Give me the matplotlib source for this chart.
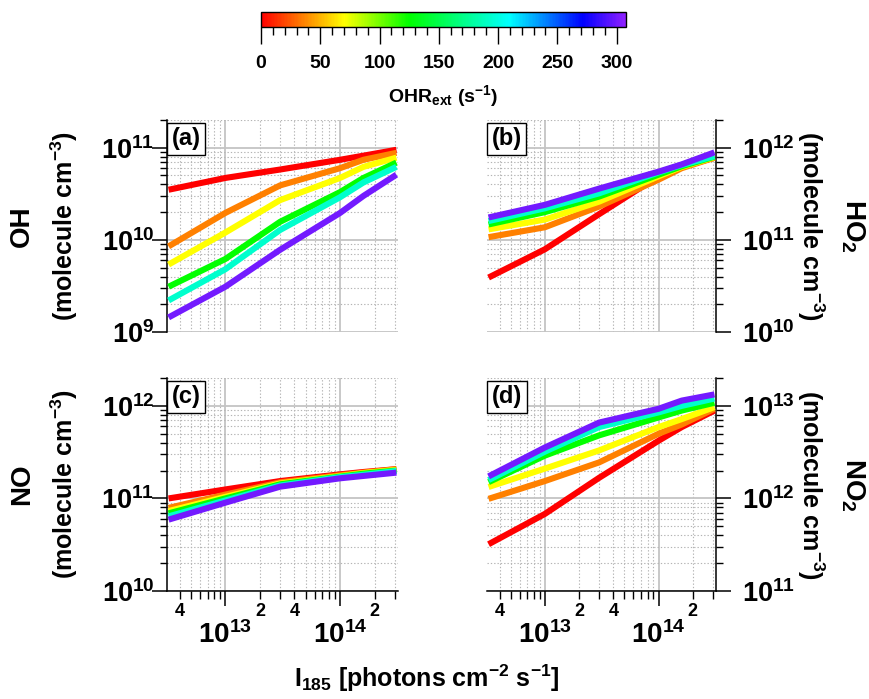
import numpy as np
import matplotlib
matplotlib.use("Agg")
import matplotlib.pyplot as plt
import matplotlib as mpl
from matplotlib.colors import LinearSegmentedColormap, Normalize
from matplotlib.ticker import LogLocator, FuncFormatter, MultipleLocator, NullFormatter

plt.rcParams['font.family'] = ['Liberation Sans', 'DejaVu Sans']
plt.rcParams['font.weight'] = 'bold'
plt.rcParams['mathtext.fontset'] = 'custom'
plt.rcParams['mathtext.rm'] = 'Liberation Sans:bold'
plt.rcParams['mathtext.bf'] = 'Liberation Sans:bold'
plt.rcParams['mathtext.it'] = 'Liberation Sans:bold'
plt.rcParams['mathtext.default'] = 'rm'

# ---------------- data ----------------
ohr_ext = [0, 35, 70, 125, 193, 300]          # s^-1
i185 = [3.2e12, 1.0e13, 3.0e13, 1.0e14, 1.6e14, 3.1e14]  # photons cm-2 s-1

oh = [
    [3.5e10, 4.7e10, 5.8e10, 7.4e10, 8.2e10, 9.5e10],
    [8.5e9, 1.96e10, 3.9e10, 6.0e10, 7.4e10, 8.8e10],
    [5.4e9, 1.2e10, 2.7e10, 4.7e10, 6.2e10, 7.8e10],
    [3.1e9, 6.2e9, 1.57e10, 3.3e10, 4.7e10, 6.9e10],
    [2.2e9, 4.8e9, 1.28e10, 2.9e10, 4.2e10, 6.2e10],
    [1.44e9, 3.1e9, 7.8e9, 1.96e10, 3.0e10, 5.1e10],
]
ho2 = [
    [3.9e10, 7.9e10, 1.9e11, 4.9e11, 6.2e11, 7.8e11],
    [1.07e11, 1.37e11, 2.3e11, 4.5e11, 6.0e11, 7.8e11],
    [1.3e11, 1.66e11, 2.6e11, 4.9e11, 6.2e11, 7.9e11],
    [1.47e11, 2.0e11, 2.95e11, 5.1e11, 6.3e11, 8.0e11],
    [1.6e11, 2.2e11, 3.2e11, 5.4e11, 6.5e11, 8.1e11],
    [1.75e11, 2.4e11, 3.6e11, 5.5e11, 6.6e11, 8.9e11],
]
no = [
    [1.0e11, 1.25e11, 1.54e11, 1.82e11, 1.93e11, 2.07e11],
    [7.9e10, 1.1e11, 1.49e11, 1.78e11, 1.9e11, 2.07e11],
    [7.3e10, 1.04e11, 1.45e11, 1.74e11, 1.88e11, 2.03e11],
    [6.9e10, 1.0e11, 1.42e11, 1.72e11, 1.85e11, 2.0e11],
    [6.4e10, 9.5e10, 1.38e11, 1.7e11, 1.8e11, 1.98e11],
    [5.9e10, 9.0e10, 1.34e11, 1.65e11, 1.75e11, 1.9e11],
]
no2 = [
    [3.2e11, 6.8e11, 1.67e12, 4.2e12, 5.9e12, 8.9e12],
    [9.9e11, 1.54e12, 2.45e12, 5.0e12, 6.3e12, 9.3e12],
    [1.33e12, 2.1e12, 3.3e12, 5.9e12, 7.2e12, 9.7e12],
    [1.5e12, 2.9e12, 4.8e12, 7.5e12, 8.9e12, 1.08e13],
    [1.58e12, 3.2e12, 5.9e12, 8.5e12, 1.0e13, 1.2e13],
    [1.73e12, 3.55e12, 6.6e12, 9.3e12, 1.14e13, 1.33e13],
]
panel_labels = ['(a)', '(b)', '(c)', '(d)']
species = ['OH', 'HO$_2$', 'NO', 'NO$_2$']
ylims = [(1e9, 2e11), (1e10, 2e12), (1e10, 2e12), (1e11, 2e13)]
xlim = (3.1e12, 3.2e14)

# ---------------- style ----------------
VMAX = 308
cmap = LinearSegmentedColormap.from_list('ohr', [
    (0.0, '#ff0000'), (35 / VMAX, '#ff8000'), (70 / VMAX, '#ffff00'),
    (125 / VMAX, '#00ff00'), (210 / VMAX, '#00ffff'), (272 / VMAX, '#0000ff'),
    (1.0, '#9020ff')])
norm = Normalize(0, VMAX)

W, H = 870, 699
fig = plt.figure(figsize=(W / 100, H / 100), dpi=100)

def fx(px):
    return px / W

def fy(py):
    return 1 - py / H

boxes = [
    (167, 120, 398, 332),
    (487, 120, 716, 332),
    (167, 378, 398, 591),
    (487, 378, 716, 591),
]

def xminor_fmt(v, p):
    e = np.floor(np.log10(v) + 1e-9)
    m = int(round(v / 10 ** e))
    return str(m) if m in (2, 4) else ''

def pow_fmt(v, p):
    e = int(round(np.log10(v)))
    return r'$10^{%d}$' % e

datasets = [oh, ho2, no, no2]
for k, (l, t, r, b) in enumerate(boxes):
    ax = fig.add_axes([fx(l), fy(b), fx(r - l), (b - t) / H])
    data = datasets[k]
    for i, val in enumerate(ohr_ext):
        ax.plot(i185, data[i], color=cmap(norm(val)), lw=4.4,
                solid_capstyle='butt', solid_joinstyle='round', zorder=3)
    ax.set_xscale('log')
    ax.set_yscale('log')
    ax.set_xlim(*xlim)
    ax.set_ylim(*ylims[k])
    ax.set_axisbelow(True)
    ax.grid(True, which='major', color='#c4c4c4', lw=1.3, ls='-')
    ax.grid(True, which='minor', color='#b4b4b4', lw=0.8, ls=(0, (1.2, 1.8)))

    right = k in (1, 3)
    bottom = k in (2, 3)
    for s in ax.spines.values():
        s.set_visible(False)
        s.set_linewidth(1.1)
    ax.spines['right' if right else 'left'].set_visible(True)
    if bottom:
        ax.spines['bottom'].set_visible(True)

    ax.yaxis.set_major_locator(LogLocator(base=10, numticks=10))
    ax.yaxis.set_minor_locator(LogLocator(base=10, subs=np.arange(2, 10), numticks=20))
    ax.yaxis.set_major_formatter(FuncFormatter(pow_fmt))
    ax.yaxis.set_minor_formatter(NullFormatter())
    if right:
        ax.yaxis.tick_right()
    ax.tick_params(axis='y', which='major', length=11, width=1.1, labelsize=19.5,
                   pad=8 if right else -2, direction='out')
    ax.tick_params(axis='y', which='minor', length=5, width=1.0, direction='out')

    ax.xaxis.set_major_locator(LogLocator(base=10, numticks=10))
    ax.xaxis.set_minor_locator(LogLocator(base=10, subs=np.arange(2, 10), numticks=20))
    if bottom:
        ax.xaxis.set_major_formatter(FuncFormatter(pow_fmt))
        ax.xaxis.set_minor_formatter(FuncFormatter(xminor_fmt))
        ax.tick_params(axis='x', which='major', length=11, width=1.1, labelsize=20, pad=11,
                       direction='out')
        ax.tick_params(axis='x', which='minor', length=6, width=1.0, labelsize=13, pad=3,
                       direction='out')
    else:
        ax.tick_params(axis='x', which='both', length=0, labelbottom=False)

    ax.text(0.02, 0.965, panel_labels[k], transform=ax.transAxes, fontsize=17,
            fontweight='bold', va='top', ha='left', zorder=5,
            bbox=dict(boxstyle='square,pad=0.2', fc='white', ec='black', lw=1.0))

# y-axis titles
unit = '(molecule cm$^{-3}$)'
for k, (l, t, r, b) in enumerate(boxes):
    yc = fy((t + b) / 2)
    if k in (0, 2):
        fig.text(fx(22), yc, species[k], rotation=90, fontsize=20, fontweight='bold',
                 ha='center', va='center')
        fig.text(fx(64), yc, unit, rotation=90, fontsize=18, fontweight='bold',
                 ha='center', va='center')
    else:
        fig.text(fx(811), yc, unit, rotation=270, fontsize=18, fontweight='bold',
                 ha='center', va='center')
        fig.text(fx(853), yc, species[k], rotation=270, fontsize=20, fontweight='bold',
                 ha='center', va='center')

fig.text(fx(427), fy(678), 'I$_{185}$ [photons cm$^{-2}$ s$^{-1}$]', fontsize=18,
         fontweight='bold', ha='center', va='center')

# colorbar
cax = fig.add_axes([fx(261), fy(27), fx(626 - 261), 15 / H])
cb = mpl.colorbar.ColorbarBase(cax, cmap=cmap, norm=norm, orientation='horizontal')
cb.outline.set_linewidth(1.0)
cb.set_ticks(list(range(0, 301, 50)))
cax.xaxis.set_minor_locator(MultipleLocator(10))
cax.tick_params(axis='x', which='major', length=12, width=1.0, labelsize=14, pad=8)
cax.tick_params(axis='x', which='minor', length=6, width=1.0)
fig.text(fx(443), fy(96), 'OHR$_{ext}$ (s$^{-1}$)', fontsize=14, fontweight='bold',
         ha='center', va='center')

fig.savefig('out.png', dpi=100)
